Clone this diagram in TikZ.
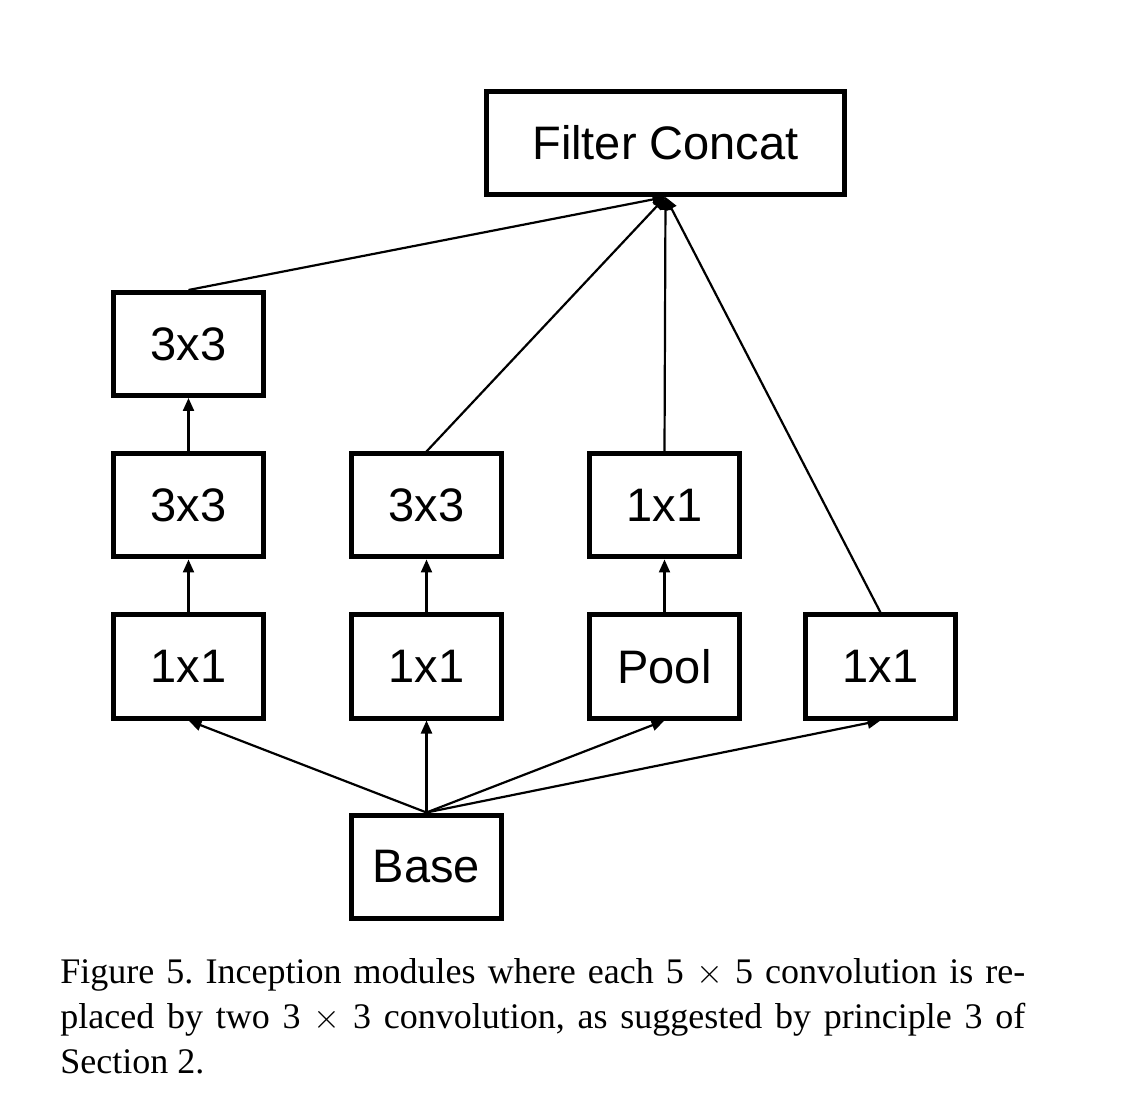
\documentclass[tikz,border=0pt]{standalone}
\usepackage{fontspec}
\setmainfont{Liberation Serif}
\setsansfont{Liberation Sans}
\usetikzlibrary{arrows.meta}

\begin{document}
\begin{tikzpicture}[x=0.5pt, y=-0.5pt,
  layer/.style={draw, line width=2.5pt, minimum width=75pt, minimum height=51.5pt,
    inner sep=0pt, font=\sffamily\fontsize{23.5}{28}\selectfont},
  link/.style={line width=1.1pt, -{Triangle[length=6.5pt, width=5.5pt]}}]

\useasboundingbox (0, 0) rectangle (1129, 1111);

% Output
\node[layer, minimum width=179pt] (concat) at (665.5, 143) {Filter Concat};

% Left tower (two 3x3 instead of 5x5)
\node[layer] (left3b) at (188.5, 344) {3x3};
\node[layer] (left3a) at (188.5, 505.5) {3x3};
\node[layer] (left1) at (188.5, 666.5) {1x1};

% Middle tower
\node[layer] (mid3) at (426.5, 505.5) {3x3};
\node[layer] (mid1) at (426.5, 666.5) {1x1};

% Pool tower
\node[layer] (pool1) at (664.5, 505.5) {1x1};
\node[layer] (pool) at (664.5, 666.5) {Pool};

% Right tower
\node[layer] (right1) at (880.5, 666.5) {1x1};

% Input
\node[layer] (base) at (426.5, 866.5) {Base};

% Base to first row
\draw[link] (base.north) -- (left1.south);
\draw[link] (base.north) -- (mid1.south);
\draw[link] (base.north) -- (pool.south);
\draw[link] (base.north) -- (right1.south);

% Inside the towers
\draw[link] (left1) -- (left3a);
\draw[link] (left3a) -- (left3b);
\draw[link] (mid1) -- (mid3);
\draw[link] (pool) -- (pool1);

% Into the concat
\draw[link] (left3b.north) -- (concat.south);
\draw[link] (mid3.north) -- (concat.south);
\draw[link] (pool1.north) -- (concat.south);
\draw[link] (right1.north) -- (concat.south);

% Caption
\node[anchor=north west, inner sep=0pt, text width=482.5pt, align=justify,
  font=\fontsize{18}{22.5}\selectfont\frenchspacing] (caption) at (60, 958)
  {Figure 5. Inception modules where each 5 $\times$ 5 convolution is re-\linebreak
   placed by two 3 $\times$ 3 convolution, as suggested by principle 3 of\linebreak
   Section 2.};

\end{tikzpicture}
\end{document}
